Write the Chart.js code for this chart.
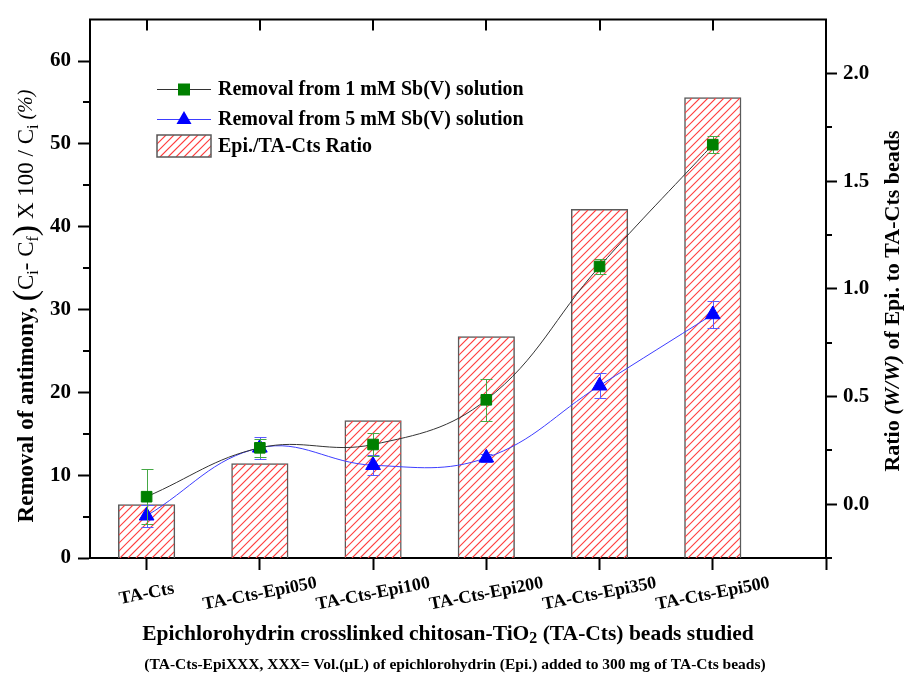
<!DOCTYPE html>
<html>
<head>
<meta charset="utf-8">
<script src="https://cdn.jsdelivr.net/npm/chart.js@4.4.1/dist/chart.umd.min.js"></script>
<style>
  html, body { margin: 0; padding: 0; background: #fff; }
</style>
</head>
<body>
<canvas id="chart" width="905" height="673"></canvas>
<script>
// data
const beads = ["TA-Cts", "TA-Cts-Epi050", "TA-Cts-Epi100", "TA-Cts-Epi200", "TA-Cts-Epi350", "TA-Cts-Epi500"];
const positions = [1, 2, 3, 4, 5, 6];
const removal1mM = [7.4, 13.3, 13.7, 19.1, 35.2, 49.9];
const err1mM = [3.3, 1.1, 1.4, 2.5, 0.9, 1.0];
const removal5mM = [5.1, 13.3, 11.2, 12.1, 20.8, 29.4];
const err5mM = [1.3, 1.3, 1.2, 0.5, 1.5, 1.6];
const epiRatio = [0.0, 0.19, 0.39, 0.78, 1.37, 1.89];
const leftTicks = [0, 10, 20, 30, 40, 50, 60];
const leftMinor = [5, 15, 25, 35, 45, 55];
const rightTicks = [0, 0.5, 1.0, 1.5, 2.0];
const rightMinor = [-0.25, 0.25, 0.75, 1.25, 1.75];
const xTicks = [1, 2, 3, 4, 5, 6, 7];
const ratioMin = -0.25, ratioMax = 2.25;

const SERIF = '"Liberation Serif", "Times New Roman", serif';
const f = (size, style) => (style || 'bold') + ' ' + size + 'px ' + SERIF;
const HATCH = "rgb(255, 60, 60)";

// red diagonal hatching inside a rectangle
function hatchRect(ctx, l, t, r, b) {
    const step = 8;
    l = Math.round(l); r = Math.round(r); t = Math.round(t); b = Math.round(b);
    const h = b - t;
    ctx.save();
    ctx.beginPath();
    ctx.rect(l, t, r - l, h);
    ctx.clip();
    ctx.strokeStyle = HATCH;
    ctx.lineWidth = 1.1;
    for (let k = Math.floor((l - h) / step) * step; k <= r; k += step) {
        ctx.beginPath();
        ctx.moveTo(k, b);
        ctx.lineTo(k + h, t);
        ctx.stroke();
    }
    ctx.restore();
}

// text made of pieces with different fonts (subscripts, italics)
function richText(ctx, parts, cx, cy, angle) {
    ctx.save();
    ctx.translate(cx, cy);
    ctx.rotate(angle);
    let total = 0;
    parts.forEach(p => { ctx.font = p.font; p.w = ctx.measureText(p.t).width; total += p.w; });
    let x = -total / 2;
    ctx.textBaseline = "middle";
    ctx.textAlign = "left";
    ctx.fillStyle = "#000";
    parts.forEach(p => { ctx.font = p.font; ctx.fillText(p.t, x, p.dy || 0); x += p.w; });
    ctx.restore();
}

function drawErrors(chart, index) {
    const ds = chart.data.datasets[index];
    const meta = chart.getDatasetMeta(index);
    const y = chart.scales[ds.yAxisID];
    const ctx = chart.ctx;
    ctx.save();
    ctx.strokeStyle = ds.errorColor;
    ctx.lineWidth = 1;
    meta.data.forEach((pt, i) => {
        const v = ds.data[i].y, e = ds.errors[i];
        const top = Math.round(y.getPixelForValue(v + e)) + 0.5;
        const bot = Math.round(y.getPixelForValue(v - e)) + 0.5;
        const x = Math.round(pt.x) + 0.5;
        ctx.beginPath();
        ctx.moveTo(x, top); ctx.lineTo(x, bot);
        ctx.moveTo(x - 6, top); ctx.lineTo(x + 6, top);
        ctx.moveTo(x - 6, bot); ctx.lineTo(x + 6, bot);
        ctx.stroke();
    });
    ctx.restore();
}

// the library draws only the bars; hatching, error bars and lines go on top here
const layers = {
    id: "layers",
    beforeDatasetDraw(chart, args) {
        return args.meta.type === "bar";
    },
    afterDatasetsDraw(chart) {
        const ctx = chart.ctx;
        chart.data.datasets.forEach((ds, i) => {
            const meta = chart.getDatasetMeta(i);
            if (meta.type !== "bar") return;
            meta.data.forEach(el => {
                const p = el.getProps(["x", "y", "base", "width"], true);
                hatchRect(ctx, p.x - p.width / 2 + 1, p.y + 1, p.x + p.width / 2 - 1, p.base);
            });
        });
        [1, 0].forEach(i => {
            drawErrors(chart, i);
            chart.getDatasetMeta(i).controller.draw();
        });
    }
};

// frame, minor ticks, labels, titles and legend
const decorations = {
    id: "decorations",
    afterDraw(chart) {
        const ctx = chart.ctx;
        const a = chart.chartArea;
        const xs = chart.scales.x, yl = chart.scales.y, yr = chart.scales.y2;
        ctx.save();
        ctx.strokeStyle = "#000";
        ctx.lineWidth = 2;
        ctx.beginPath();
        ctx.moveTo(a.left - 1, a.top);
        ctx.lineTo(a.right + 1, a.top);
        positions.forEach(v => {
            const px = Math.round(xs.getPixelForValue(v));
            ctx.moveTo(px, a.top); ctx.lineTo(px, a.top + 11);
        });
        leftMinor.forEach(v => {
            const py = Math.round(yl.getPixelForValue(v));
            ctx.moveTo(a.left, py); ctx.lineTo(a.left - 7, py);
        });
        rightMinor.forEach(v => {
            const py = Math.round(yr.getPixelForValue(v));
            ctx.moveTo(a.right, py); ctx.lineTo(a.right + 6, py);
        });
        ctx.stroke();

        // category labels, slanted
        ctx.fillStyle = "#000";
        ctx.font = f(18);
        ctx.textAlign = "center";
        ctx.textBaseline = "middle";
        positions.forEach((v, i) => {
            ctx.save();
            ctx.translate(xs.getPixelForValue(v), 594);
            ctx.rotate(-11 * Math.PI / 180);
            ctx.fillText(beads[i], 0, 0);
            ctx.restore();
        });

        // axis titles
        richText(ctx, [
            { t: "Removal of antimony, ", font: f(23) },
            { t: "(", font: f(34, "normal") },
            { t: "C", font: f(23, "normal") },
            { t: "i", font: f(16, "normal"), dy: 7 },
            { t: "- C", font: f(23, "normal") },
            { t: "f", font: f(16, "normal"), dy: 7 },
            { t: ")", font: f(34, "normal") },
            { t: " X 100 / C", font: f(23, "normal") },
            { t: "i", font: f(16, "normal"), dy: 7 },
            { t: " (%)", font: f(20, "italic") }
        ], 27, 306, -Math.PI / 2);

        richText(ctx, [
            { t: "Ratio ", font: f(22) },
            { t: "(W/W)", font: f(22, "italic bold") },
            { t: " of Epi. to TA-Cts beads", font: f(22) }
        ], 893, 301, -Math.PI / 2);

        richText(ctx, [
            { t: "Epichlorohydrin crosslinked chitosan-TiO", font: f(21.5) },
            { t: "2", font: f(16), dy: 5 },
            { t: " (TA-Cts) beads studied", font: f(21.5) }
        ], 448, 634, 0);

        richText(ctx, [
            { t: "(TA-Cts-EpiXXX, XXX= Vol.(\u00b5L) of epichlorohydrin (Epi.) added to 300 mg of TA-Cts beads)", font: f(15.5) }
        ], 455, 665, 0);

        // legend
        const rows = [89, 119, 146];
        const ds = chart.data.datasets;
        ctx.lineWidth = 1;
        [0, 1].forEach(k => {
            const d = ds[k];
            ctx.strokeStyle = d.borderColor;
            ctx.beginPath();
            ctx.moveTo(157, rows[k] + 0.5); ctx.lineTo(211, rows[k] + 0.5);
            ctx.stroke();
            ctx.fillStyle = d.backgroundColor;
            if (d.pointStyle === "rect") {
                ctx.fillRect(178, rows[k] - 5.5, 12, 12);
            } else {
                ctx.beginPath();
                ctx.moveTo(184, rows[k] - 8);
                ctx.lineTo(191.5, rows[k] + 5);
                ctx.lineTo(176.5, rows[k] + 5);
                ctx.closePath();
                ctx.fill();
            }
        });
        hatchRect(ctx, 157, rows[2] - 11, 211, rows[2] + 11);
        ctx.strokeStyle = "#5a5a5a";
        ctx.lineWidth = 1.5;
        ctx.strokeRect(157, rows[2] - 11, 54, 22);

        ctx.fillStyle = "#000";
        ctx.font = f(20);
        ctx.textAlign = "left";
        ctx.textBaseline = "middle";
        ds.forEach((d, k) => ctx.fillText(d.label, 218, rows[k] + 1));
        ctx.restore();
    }
};

const axisTickFont = { family: SERIF, size: 21, weight: "bold" };

new Chart(document.getElementById("chart"), {
    type: "bar",
    data: {
        datasets: [
            {
                type: "line",
                label: "Removal from 1 mM Sb(V) solution",
                data: positions.map((x, i) => ({ x, y: removal1mM[i] })),
                errors: err1mM,
                errorColor: "#45a845",
                borderColor: "#333333",
                borderWidth: 1,
                backgroundColor: "#008000",
                pointBackgroundColor: "#008000",
                pointBorderColor: "#008000",
                pointBorderWidth: 1,
                pointStyle: "rect",
                pointRadius: 7.5,
                tension: 0.4,
                fill: false,
                clip: false,
                yAxisID: "y",
                order: 1
            },
            {
                type: "line",
                label: "Removal from 5 mM Sb(V) solution",
                data: positions.map((x, i) => ({ x, y: removal5mM[i] })),
                errors: err5mM,
                errorColor: "#5a5aff",
                borderColor: "#3d3dff",
                borderWidth: 1,
                backgroundColor: "#0000ff",
                pointBackgroundColor: "#0000ff",
                pointBorderColor: "#0000ff",
                pointBorderWidth: 1,
                pointStyle: "triangle",
                pointRadius: 8.5,
                tension: 0.4,
                fill: false,
                clip: false,
                yAxisID: "y",
                order: 2
            },
            {
                type: "bar",
                label: "Epi./TA-Cts Ratio",
                data: positions.map((x, i) => ({ x, y: epiRatio[i] })),
                base: ratioMin,
                backgroundColor: "rgba(255, 255, 255, 0)",
                borderColor: "#5a5a5a",
                borderWidth: 1.5,
                categoryPercentage: 1,
                barPercentage: 0.505,
                yAxisID: "y2",
                order: 3
            }
        ]
    },
    options: {
        responsive: false,
        animation: false,
        layout: { padding: { top: 17, left: 0, right: 0, bottom: 0 } },
        plugins: { legend: { display: false }, tooltip: { enabled: false } },
        scales: {
            x: {
                type: "linear",
                min: 0.5,
                max: 7,
                offset: false,
                afterBuildTicks: s => { s.ticks = xTicks.map(v => ({ value: v })); },
                afterFit: s => { s.height = 115; },
                ticks: { display: false },
                grid: { offset: false, drawOnChartArea: false, drawTicks: true, tickLength: 12, tickWidth: 2, tickColor: "#000" },
                border: { display: true, width: 2, color: "#000" }
            },
            y: {
                position: "left",
                min: 0,
                max: 65,
                afterBuildTicks: s => { s.ticks = leftTicks.map(v => ({ value: v })); },
                afterFit: s => { s.width = 90; },
                ticks: { font: axisTickFont, color: "#000", padding: 7 },
                grid: { drawOnChartArea: false, tickLength: 12, tickWidth: 2, tickColor: "#000" },
                border: { display: true, width: 2, color: "#000" }
            },
            y2: {
                position: "right",
                min: ratioMin,
                max: ratioMax,
                afterBuildTicks: s => { s.ticks = rightTicks.map(v => ({ value: v })); },
                afterFit: s => { s.width = 79; },
                ticks: { font: axisTickFont, color: "#000", padding: 6, callback: v => v.toFixed(1) },
                grid: { drawOnChartArea: false, tickLength: 11, tickWidth: 2, tickColor: "#000" },
                border: { display: true, width: 2, color: "#000" }
            }
        }
    },
    plugins: [layers, decorations]
});
</script>
</body>
</html>
